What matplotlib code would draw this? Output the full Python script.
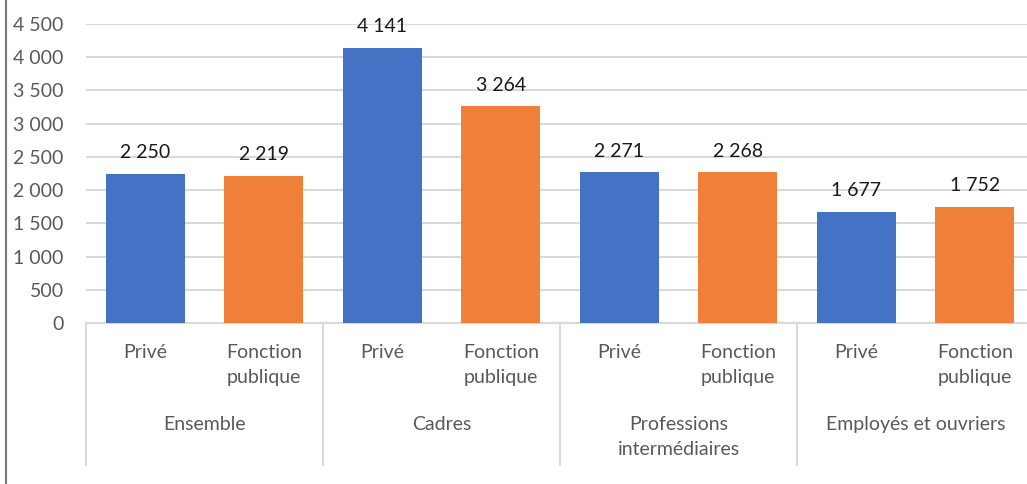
import matplotlib.pyplot as plt
from matplotlib.lines import Line2D

# salaires nets moyens (euros)
groupes = ['Ensemble', 'Cadres', 'Professions\nintermédiaires', 'Employés et ouvriers']
secteurs = ['Privé', 'Fonction\npublique']
prive = [2250, 4141, 2271, 1677]
fonction_publique = [2219, 3264, 2268, 1752]

BLUE = '#4472C4'
ORANGE = '#F07F3A'
GRID = '#D9D9D9'
TXT = '#595959'

plt.rcParams['font.family'] = ['Lato', 'DejaVu Sans']
FS = 14

W, H = 1027, 484
fig = plt.figure(figsize=(W / 100, H / 100), dpi=100)
ax = fig.add_axes([86 / W, (H - 323) / H, 948 / W, (323 - 24) / H])


def fr(v):
    return '{:,}'.format(int(v)).replace(',', ' ')


values = []
colors = []
for p, f in zip(prive, fonction_publique):
    values += [p, f]
    colors += [BLUE, ORANGE]
xs = list(range(len(values)))

ax.bar(xs, values, width=0.667, color=colors, zorder=3)
for x, v in zip(xs, values):
    ax.annotate(fr(v), (x, v), xytext=(0, 21), textcoords='offset pixels',
                ha='center', va='center', fontsize=FS, color='#1a1a1a')

ax.set_xlim(-0.5, len(values) - 0.5)
ax.set_ylim(0, 4500)
ax.set_yticks(range(0, 4501, 500))
ax.set_yticklabels([fr(t) for t in range(0, 4501, 500)], fontsize=FS, color=TXT)
ax.tick_params(axis='y', length=0, pad=16)
ax.set_xticks([])
ax.grid(axis='y', color=GRID, linewidth=1.5, zorder=0)
for s in ['top', 'right', 'left']:
    ax.spines[s].set_visible(False)
ax.spines['bottom'].set_color(GRID)
ax.spines['bottom'].set_linewidth(1.5)

tr = ax.get_xaxis_transform()
ax_h = 323 - 24
# labels des secteurs
for x in xs:
    ax.annotate(secteurs[x % 2], (x, 0), xycoords=tr, xytext=(0, -21),
                textcoords='offset pixels', ha='center', va='top',
                fontsize=FS, color=TXT, linespacing=1.6)
# labels des groupes
for i, g in enumerate(groupes):
    ax.annotate(g, (2 * i + 0.5, 0), xycoords=tr, xytext=(0, -93),
                textcoords='offset pixels', ha='center', va='top',
                fontsize=FS, color=TXT, linespacing=1.6)
# separateurs
for i in range(len(groupes) + 1):
    ax.plot([2 * i - 0.5] * 2, [0, -142 / ax_h], transform=tr, color=GRID,
            linewidth=1.5, clip_on=False)

fig.add_artist(Line2D([5.5 / W] * 2, [0, 1], color='#7a7a7a', linewidth=1.5))

fig.savefig('out.png', dpi=100)
